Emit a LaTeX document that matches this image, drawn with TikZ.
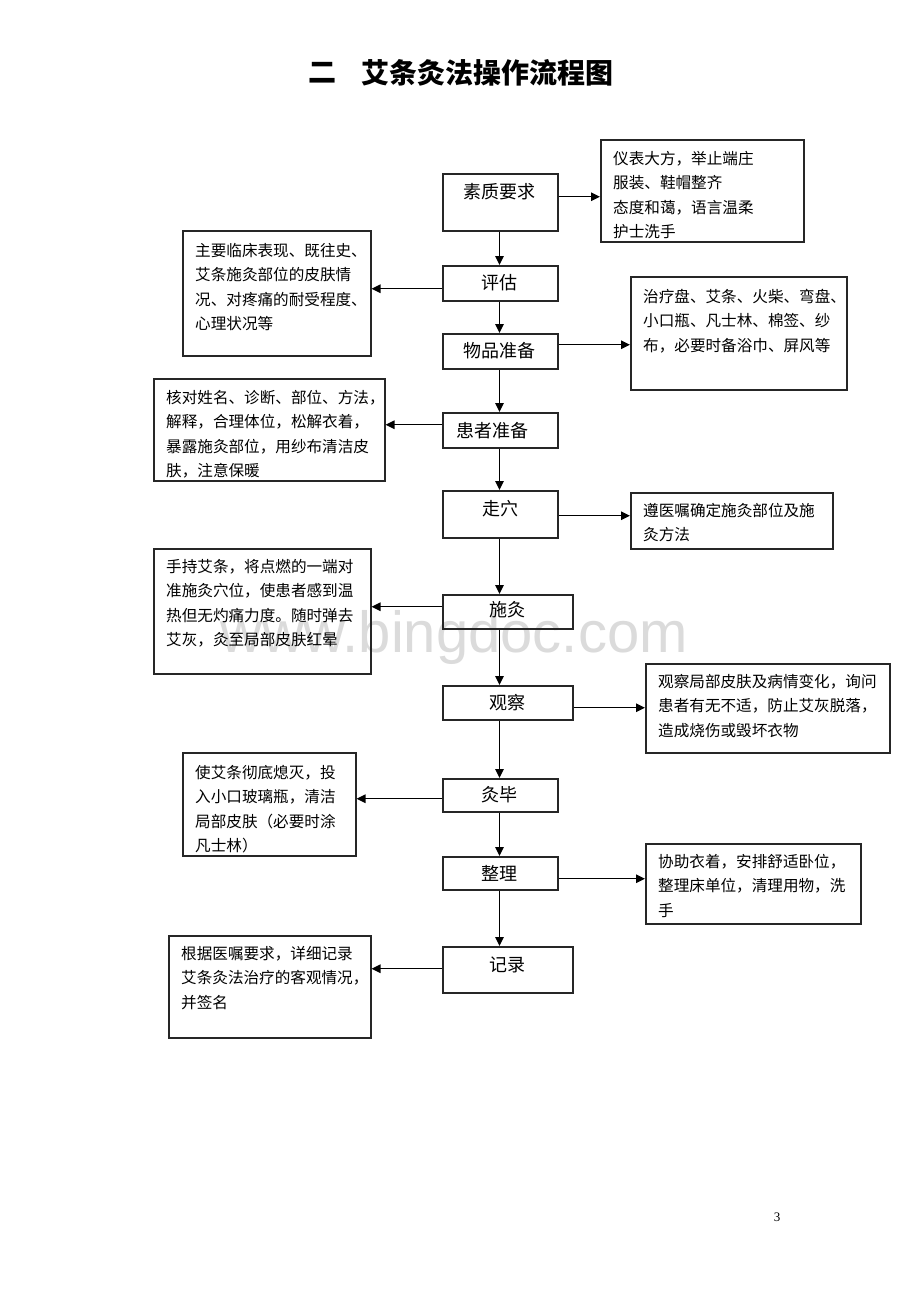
\documentclass[tikz,border=0pt]{standalone}
\usepackage{fontspec}
\setmainfont{Noto Sans CJK SC}
\newfontfamily\wmfont{Liberation Sans}
\newfontfamily\numfont{Liberation Serif}
\usetikzlibrary{arrows.meta,calc}
\tikzset{
  box/.style={draw=black!85, line width=1.5pt, inner sep=0pt, anchor=north west},
  maintext/.style={font=\fontsize{18}{18}\selectfont, inner sep=0pt},
  sidetext/.style={font=\fontsize{15.6}{24.5}\selectfont, inner sep=0pt, align=left, anchor=north west},
  conn/.style={line width=1.4pt, -{Triangle[length=9pt,width=8.5pt]}},
}
\newcommand{\fs}{\rule{0pt}{15pt}}
\begin{document}
\begin{tikzpicture}[x=1pt,y=-1pt]
\useasboundingbox[fill=white] (0,0) rectangle (920,1302);
% watermark
\node[font=\wmfont\fontsize{58}{58}\selectfont, text=black!14, inner sep=0pt, anchor=base west] (wm) at (220,652) {www.bingdoc.com};
% title
\node[font=\bfseries\fontsize{28}{28}\selectfont, inner sep=0pt] (t1) at (322,73) {二};
\node[font=\bfseries\fontsize{28}{28}\selectfont, inner sep=0pt] (t2) at (487,73) {艾条灸法操作流程图};
\node[font=\numfont\fontsize{13}{13}\selectfont, inner sep=0pt] (pg) at (777,1217) {3};
\coordinate (axis) at (499.5,0);
% main boxes
\node[box, minimum width=115pt, minimum height=57pt] (m1) at (442,173) {};
\node[box, minimum width=115pt, minimum height=35pt] (m2) at (442,265) {};
\node[box, minimum width=115pt, minimum height=35pt] (m3) at (442,333) {};
\node[box, minimum width=115pt, minimum height=35pt] (m4) at (442,412) {};
\node[box, minimum width=115pt, minimum height=47pt] (m5) at (442,490) {};
\node[box, minimum width=130pt, minimum height=34pt] (m6) at (442,594) {};
\node[box, minimum width=130pt, minimum height=34pt] (m7) at (442,685) {};
\node[box, minimum width=115pt, minimum height=33pt] (m8) at (442,778) {};
\node[box, minimum width=115pt, minimum height=33pt] (m9) at (442,856) {};
\node[box, minimum width=130pt, minimum height=46pt] (m10) at (442,946) {};
\node[maintext] (mt1) at (499,192) {素质要求};
\node[maintext] (mt2) at (499,283) {评估};
\node[maintext] (mt3) at (499,351) {物品准备};
\node[maintext] (mt4) at (492,431) {患者准备};
\node[maintext] (mt5) at (500,509) {走穴};
\node[maintext] (mt6) at (507,610) {施灸};
\node[maintext] (mt7) at (507,703) {观察};
\node[maintext] (mt8) at (499,795) {灸毕};
\node[maintext] (mt9) at (499,873) {整理};
\node[maintext] (mt10) at (507,965) {记录};
% side boxes
\node[box, minimum width=203pt, minimum height=102pt] (r1) at (600,139) {};
\node[box, minimum width=188pt, minimum height=125pt] (l1) at (182,230) {};
\node[box, minimum width=216pt, minimum height=113pt] (r2) at (630,276) {};
\node[box, minimum width=231pt, minimum height=102pt] (l2) at (153,378) {};
\node[box, minimum width=202pt, minimum height=56pt] (r3) at (630,492) {};
\node[box, minimum width=217pt, minimum height=125pt] (l3) at (153,548) {};
\node[box, minimum width=244pt, minimum height=89pt] (r4) at (645,663) {};
\node[box, minimum width=173pt, minimum height=103pt] (l4) at (182,752) {};
\node[box, minimum width=215pt, minimum height=80pt] (r5) at (645,843) {};
\node[box, minimum width=202pt, minimum height=102pt] (l5) at (168,935) {};
% side texts
\node[sidetext] (rt1) at ($(r1.north west)+(13,9.9)$) {\fs 仪表大方，举止端庄\\服装、鞋帽整齐\\态度和蔼，语言温柔\\护士洗手};
\node[sidetext] (lt1) at ($(l1.north west)+(13,10.9)$) {\fs 主要临床表现、既往史、\\艾条施灸部位的皮肤情\\况、对疼痛的耐受程度、\\心理状况等};
\node[sidetext] (rt2) at ($(r2.north west)+(13,10.9)$) {\fs 治疗盘、艾条、火柴、弯盘、\\小口瓶、凡士林、棉签、纱\\布，必要时备浴巾、屏风等};
\node[sidetext] (lt2) at ($(l2.north west)+(13,9.9)$) {\fs 核对姓名、诊断、部位、方法，\\解释，合理体位，松解衣着，\\暴露施灸部位，用纱布清洁皮\\肤，注意保暖};
\node[sidetext] (rt3) at ($(r3.north west)+(13,8.9)$) {\fs 遵医嘱确定施灸部位及施\\灸方法};
\node[sidetext] (lt3) at ($(l3.north west)+(13,8.9)$) {\fs 手持艾条，将点燃的一端对\\准施灸穴位，使患者感到温\\热但无灼痛力度。随时弹去\\艾灰，灸至局部皮肤红晕};
\node[sidetext] (rt4) at ($(r4.north west)+(13,8.9)$) {\fs 观察局部皮肤及病情变化，询问\\患者有无不适，防止艾灰脱落，\\造成烧伤或毁坏衣物};
\node[sidetext] (lt4) at ($(l4.north west)+(13,10.9)$) {\fs 使艾条彻底熄灭，投\\入小口玻璃瓶，清洁\\局部皮肤（必要时涂\\凡士林）};
\node[sidetext] (rt5) at ($(r5.north west)+(13,8.9)$) {\fs 协助衣着，安排舒适卧位，\\整理床单位，清理用物，洗\\手};
\node[sidetext] (lt5) at ($(l5.north west)+(13,8.9)$) {\fs 根据医嘱要求，详细记录\\艾条灸法治疗的客观情况，\\并签名};
% vertical connectors
\draw[conn] (m1.south -| axis) -- (m2.north -| axis);
\draw[conn] (m2.south -| axis) -- (m3.north -| axis);
\draw[conn] (m3.south -| axis) -- (m4.north -| axis);
\draw[conn] (m4.south -| axis) -- (m5.north -| axis);
\draw[conn] (m5.south -| axis) -- (m6.north -| axis);
\draw[conn] (m6.south -| axis) -- (m7.north -| axis);
\draw[conn] (m7.south -| axis) -- (m8.north -| axis);
\draw[conn] (m8.south -| axis) -- (m9.north -| axis);
\draw[conn] (m9.south -| axis) -- (m10.north -| axis);
% horizontal connectors
\draw[conn] ([yshift=5.5pt]m1.east) -- ([yshift=5.5pt]m1.east -| r1.west);
\draw[conn] ([yshift=-5.5pt]m2.west) -- ([yshift=-5.5pt]m2.west -| l1.east);
\draw[conn] ([yshift=6.5pt]m3.east) -- ([yshift=6.5pt]m3.east -| r2.west);
\draw[conn] ([yshift=5.5pt]m4.west) -- ([yshift=5.5pt]m4.west -| l2.east);
\draw[conn] ([yshift=-1.5pt]m5.east) -- ([yshift=-1.5pt]m5.east -| r3.west);
\draw[conn] ([yshift=5pt]m6.west) -- ([yshift=5pt]m6.west -| l3.east);
\draw[conn] ([yshift=-5pt]m7.east) -- ([yshift=-5pt]m7.east -| r4.west);
\draw[conn] ([yshift=-3.5pt]m8.west) -- ([yshift=-3.5pt]m8.west -| l4.east);
\draw[conn] ([yshift=-5.5pt]m9.east) -- ([yshift=-5.5pt]m9.east -| r5.west);
\draw[conn] ([yshift=1pt]m10.west) -- ([yshift=1pt]m10.west -| l5.east);
\end{tikzpicture}
\end{document}
